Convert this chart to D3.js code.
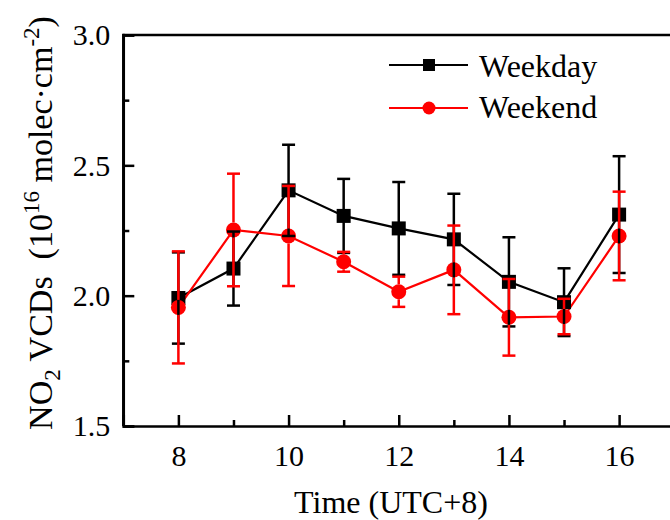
<!DOCTYPE html>
<html>
<head>
<meta charset="utf-8">
<script src="https://cdn.jsdelivr.net/npm/d3@7"></script>
<style>
  body { margin: 0; background: #fff; }
  svg { display: block; }
  text { font-family: "Liberation Serif", "Times New Roman", serif; fill: #000; }
</style>
</head>
<body>
<svg id="chart" width="670" height="520"></svg>
<script>
// ---- data ----
const hours = [8, 9, 10, 11, 12, 13, 14, 15, 16];
const weekdayMean = [1.991, 2.104, 2.404, 2.306, 2.258, 2.216, 2.053, 1.975, 2.311];
const weekdayErr  = [0.175, 0.142, 0.175, 0.142, 0.178, 0.175, 0.171, 0.130, 0.224];
const weekendMean = [1.955, 2.252, 2.229, 2.130, 2.015, 2.099, 1.917, 1.920, 2.229];
const weekendErr  = [0.215, 0.216, 0.192, 0.038, 0.058, 0.170, 0.147, 0.068, 0.170];
const xMajorTicks = [8, 10, 12, 14, 16];
const xMinorTicks = [9, 11, 13, 15];
const yMajorTicks = [1.5, 2.0, 2.5, 3.0];
const yMinorTicks = [1.75, 2.25, 2.75];
const seriesNames = ["Weekday", "Weekend"];

const svg = d3.select("#chart");
const pL = 123.3, pR = 674.2, pT = 35, pB = 426;

const x = d3.scaleLinear().domain([7, 17]).range([pL, pR]);
const y = d3.scaleLinear().domain([1.5, 3.0]).range([pB, pT]);

const axisW = 2.5;

// ---- axes ----
const gx = svg.append("g").attr("transform", `translate(0,${pB})`);
gx.call(d3.axisBottom(x).tickValues(xMajorTicks).tickSize(-11).tickFormat(d3.format("d")));
const gxm = svg.append("g").attr("transform", `translate(0,${pB})`);
gxm.call(d3.axisBottom(x).tickValues(xMinorTicks).tickSize(-6).tickFormat(""));
gxm.select(".domain").remove();

const gy = svg.append("g").attr("transform", `translate(${pL},0)`);
gy.call(d3.axisLeft(y).tickValues(yMajorTicks).tickSize(-11).tickPadding(13).tickFormat(d3.format(".1f")));
const gym = svg.append("g").attr("transform", `translate(${pL},0)`);
gym.call(d3.axisLeft(y).tickValues(yMinorTicks).tickSize(-6).tickFormat(""));
gym.select(".domain").remove();

svg.selectAll(".domain").attr("stroke", "#000").attr("stroke-width", axisW);
svg.selectAll(".tick line").attr("stroke", "#000").attr("stroke-width", axisW);
svg.selectAll("g").attr("font-family", "Liberation Serif");
gx.selectAll(".tick text").attr("font-size", 30).attr("dy", 0).attr("y", 40);
gy.selectAll(".tick text").attr("font-size", 30).attr("dy", "0.33em");

// frame
svg.append("line").attr("x1", pL).attr("x2", pR).attr("y1", pT).attr("y2", pT)
  .attr("stroke", "#000").attr("stroke-width", axisW);
svg.append("line").attr("x1", pL).attr("x2", pL).attr("y1", pT - axisW/2).attr("y2", pB)
  .attr("stroke", "#000").attr("stroke-width", axisW);
svg.append("line").attr("x1", pR).attr("x2", pR).attr("y1", pT).attr("y2", pB)
  .attr("stroke", "#000").attr("stroke-width", axisW);

// ---- axis titles ----
svg.append("text").attr("x", 391).attr("y", 513).attr("text-anchor", "middle")
  .attr("font-size", 32).text("Time (UTC+8)");

const yt = svg.append("text").attr("transform", "translate(52,223) rotate(-90)")
  .attr("text-anchor", "middle").attr("font-size", 34);
yt.append("tspan").text("NO");
yt.append("tspan").attr("font-size", 23).attr("dy", 8).text("2");
yt.append("tspan").attr("dy", -8).text(" VCDs \u00A0(10");
yt.append("tspan").attr("font-size", 23).attr("dy", -13).text("16");
yt.append("tspan").attr("dy", 13).text(" molec\u00B7cm");
yt.append("tspan").attr("font-size", 23).attr("dy", -13).text("-2");
yt.append("tspan").attr("dy", 13).text(")");

// ---- series ----
const wd = hours.map((h, i) => ({h, m: weekdayMean[i], e: weekdayErr[i]}));
const we = hours.map((h, i) => ({h, m: weekendMean[i], e: weekendErr[i]}));
const line = d3.line().x(d => x(d.h)).y(d => y(d.m));

svg.append("path").datum(wd).attr("d", line).attr("fill", "none")
  .attr("stroke", "#000").attr("stroke-width", 2.2);
svg.append("path").datum(we).attr("d", line).attr("fill", "none")
  .attr("stroke", "#ff0000").attr("stroke-width", 2.2);

const sq = 14, r = 7.5;
svg.append("g").selectAll("rect").data(wd).join("rect")
  .attr("x", d => x(d.h) - sq/2).attr("y", d => y(d.m) - sq/2)
  .attr("width", sq).attr("height", sq).attr("fill", "#000");
svg.append("g").selectAll("circle").data(we).join("circle")
  .attr("cx", d => x(d.h)).attr("cy", d => y(d.m)).attr("r", r).attr("fill", "#ff0000");

function errorBars(data, color, gap) {
  const g = svg.append("g").attr("stroke", color).attr("stroke-width", 2.5);
  const cap = 6.5;
  data.forEach(d => {
    const cx = x(d.h), cy = y(d.m), y1 = y(d.m + d.e), y2 = y(d.m - d.e);
    g.append("line").attr("x1", cx).attr("x2", cx).attr("y1", y1).attr("y2", cy - gap);
    g.append("line").attr("x1", cx).attr("x2", cx).attr("y1", cy + gap).attr("y2", y2);
    g.append("line").attr("x1", cx - cap).attr("x2", cx + cap).attr("y1", y1).attr("y2", y1);
    g.append("line").attr("x1", cx - cap).attr("x2", cx + cap).attr("y1", y2).attr("y2", y2);
  });
}
errorBars(wd, "#000", 0);
errorBars(we, "#ff0000", r);

// ---- legend ----
const lg = svg.append("g");
const legendRows = [
  {name: seriesNames[0], color: "#000", shape: "square", ly: 65, ty: 77},
  {name: seriesNames[1], color: "#ff0000", shape: "circle", ly: 108, ty: 118}
];
legendRows.forEach(row => {
  lg.append("line").attr("x1", 389).attr("x2", 468).attr("y1", row.ly).attr("y2", row.ly)
    .attr("stroke", row.color).attr("stroke-width", 2.2);
  if (row.shape === "square") {
    lg.append("rect").attr("x", 429 - 6).attr("y", row.ly - 6).attr("width", 12).attr("height", 12)
      .attr("fill", row.color);
  } else {
    lg.append("circle").attr("cx", 429).attr("cy", row.ly).attr("r", 6.5).attr("fill", row.color);
  }
  lg.append("text").attr("x", 479).attr("y", row.ty).attr("font-size", 32).text(row.name);
});
</script>
</body>
</html>
